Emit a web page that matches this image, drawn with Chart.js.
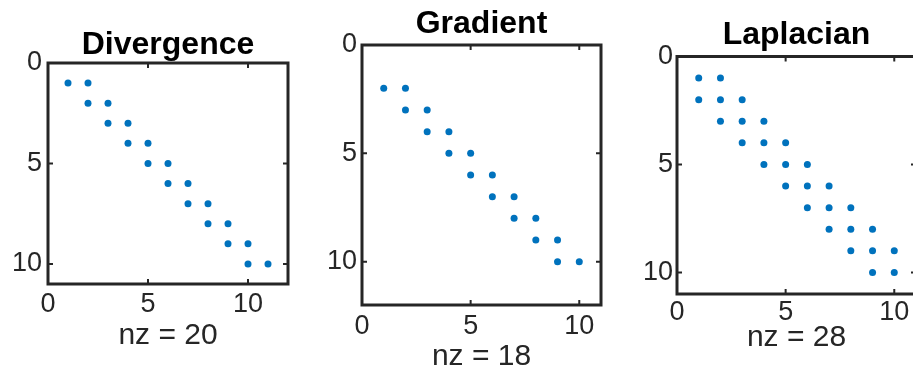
<!DOCTYPE html>
<html>
<head>
<meta charset="utf-8">
<title>Spy plots</title>
<script src="https://cdn.jsdelivr.net/npm/chart.js@4.4.0/dist/chart.umd.min.js"></script>
<style>
  html, body { margin: 0; padding: 0; background: #fff; overflow: hidden; width: 913px; height: 371px; }
  canvas { position: absolute; top: 0; }
</style>
</head>
<body>
<canvas id="divChart" width="300" height="400" style="left:0px"></canvas>
<canvas id="gradChart" width="310" height="400" style="left:300px"></canvas>
<canvas id="lapChart" width="320" height="400" style="left:610px"></canvas>
<script>
"use strict";
//nonzero entries (row, col) of each operator matrix
var divRows = [1, 1, 2, 2, 3, 3, 4, 4, 5, 5, 6, 6, 7, 7, 8, 8, 9, 9, 10, 10];
var divCols = [1, 2, 2, 3, 3, 4, 4, 5, 5, 6, 6, 7, 7, 8, 8, 9, 9, 10, 10, 11];
var gradRows = [2, 2, 3, 3, 4, 4, 5, 5, 6, 6, 7, 7, 8, 8, 9, 9, 10, 10];
var gradCols = [1, 2, 2, 3, 3, 4, 4, 5, 5, 6, 6, 7, 7, 8, 8, 9, 9, 10];
var lapRows = [1, 1, 2, 2, 2, 3, 3, 3, 4, 4, 4, 5, 5, 5, 6, 6, 6, 7, 7, 7, 8, 8, 8, 9, 9, 9, 10, 10];
var lapCols = [1, 2, 1, 2, 3, 2, 3, 4, 3, 4, 5, 4, 5, 6, 5, 6, 7, 6, 7, 8, 7, 8, 9, 8, 9, 10, 9, 10];
var tickValues = [0, 5, 10];

var fontFam = "'Liberation Sans', Arial, Helvetica, sans-serif";
var axisColor = "#262626";
Chart.defaults.font.family = fontFam;

//box around the axes + small inward ticks on all 4 sides (like matlab)
var boxPlugin = {
  id: "spyBox",
  afterDraw: function (chart) {
    var a = chart.chartArea;
    var ctx = chart.ctx;
    var xs = chart.scales.x;
    var ys = chart.scales.y;
    ctx.save();
    ctx.strokeStyle = axisColor;
    ctx.lineWidth = 2;
    tickValues.forEach(function (v) {
      var px = xs.getPixelForValue(v);
      var py = ys.getPixelForValue(v);
      ctx.beginPath();
      ctx.moveTo(px, a.top); ctx.lineTo(px, a.top + 5);
      ctx.moveTo(px, a.bottom); ctx.lineTo(px, a.bottom - 5);
      ctx.moveTo(a.left, py); ctx.lineTo(a.left + 5, py);
      ctx.moveTo(a.right, py); ctx.lineTo(a.right - 5, py);
      ctx.stroke();
    });
    ctx.lineWidth = 3;
    ctx.strokeRect(a.left, a.top, a.right - a.left, a.bottom - a.top);
    ctx.restore();
  }
};

function setTicks(scale) {
  scale.ticks = tickValues.map(function (v) { return { value: v }; });
}

function spy(id, rows, cols, title, xMax, yMax, lay) {
  var pts = [];
  for (let i = 0; i < rows.length; i++) {
    pts.push({ x: cols[i], y: rows[i] });
  }
  new Chart(document.getElementById(id), {
    type: "scatter",
    data: {
      datasets: [
        {
          data: pts,
          backgroundColor: "#0072BD",
          borderWidth: 0,
          pointRadius: 3.5,
          pointHoverRadius: 3.5,
        },
      ],
    },
    options: {
      responsive: false,
      animation: false,
      events: [],
      layout: { padding: { left: 0, right: lay.right, top: 0, bottom: 0 } },
      plugins: {
        legend: { display: false },
        tooltip: { enabled: false },
        title: {
          display: true,
          text: title,
          fullSize: false,
          color: "#000",
          font: { family: fontFam, size: 32, weight: "bold", lineHeight: 1 },
          padding: { top: lay.titleTop, bottom: lay.titleBottom },
        },
      },
      scales: {
        x: {
          type: "linear",
          position: "bottom",
          min: 0,
          max: xMax,
          grid: { display: false, drawTicks: false },
          border: { display: false },
          afterBuildTicks: setTicks,
          afterFit: function (s) { s.height = lay.xH; },
          ticks: { padding: lay.xPad, color: axisColor, maxRotation: 0, font: { size: 27 } },
          title: {
            display: true,
            text: "nz = " + rows.length,
            color: axisColor,
            font: { size: 30 },
            padding: { top: 0, bottom: lay.xTitle },
          },
        },
        y: {
          type: "linear",
          position: "left",
          reverse: true,
          min: 0,
          max: yMax,
          grid: { display: false, drawTicks: false },
          border: { display: false },
          afterBuildTicks: setTicks,
          afterFit: function (s) { s.width = lay.yW; },
          ticks: { padding: lay.yPad, color: axisColor, font: { size: 27 } },
        },
      },
    },
    plugins: [boxPlugin],
  });
}

spy("divChart", divRows, divCols, "Divergence", 12, 11,
  { right: 12, yW: 48, yPad: 6, titleTop: 29.5, titleBottom: 1.5, xH: 116, xPad: 4, xTitle: 46 });
spy("gradChart", gradRows, gradCols, "Gradient", 11, 12,
  { right: 9, yW: 62, yPad: 5, titleTop: 8.5, titleBottom: 4.5, xH: 95, xPad: 5, xTitle: 25 });
spy("lapChart", lapRows, lapCols, "Laplacian", 11, 11,
  { right: 14, yW: 67, yPad: 4, titleTop: 19.5, titleBottom: 5, xH: 106, xPad: 2, xTitle: 44 });
</script>
</body>
</html>
